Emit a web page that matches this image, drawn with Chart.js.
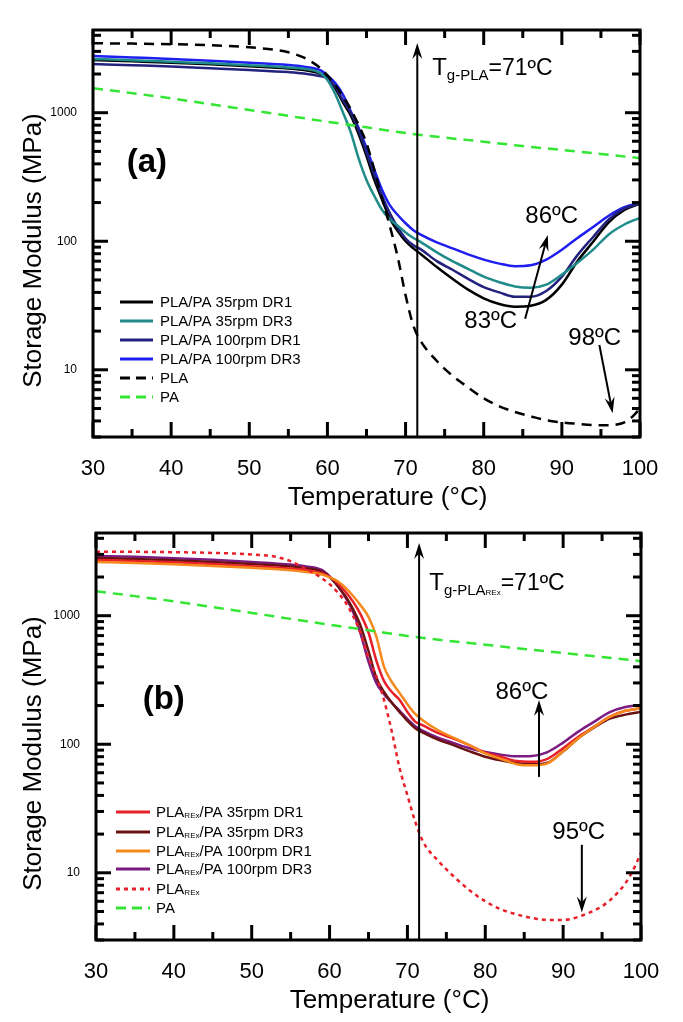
<!DOCTYPE html>
<html><head><meta charset="utf-8">
<script src="https://cdn.jsdelivr.net/npm/chart.js@4.4.0/dist/chart.umd.min.js"></script>
<style>html,body{margin:0;padding:0;background:#fff;overflow:hidden}.w{position:absolute;left:0;width:683px;height:511px}</style>
</head><body>
<div class="w" style="top:0"><canvas id="ca"></canvas></div>
<div class="w" style="top:511px"><canvas id="cb"></canvas></div>
<script>
// ---------- data ----------
const tempsBlend = [30,35,40,45,50,55,57,59,60,61,62,63,64,65,66,67,68,69,70,71,72,74,76,78,80,82,84,86,88,90,92,94,96,98,100];
// panel (a)
const plaPa35DR1  = [2570,2510,2450,2380,2300,2210,2150,2020,1880,1550,1200,950,680,460,300,210,150,120,100,88,79,63,51,42,36,32.5,31,31.5,35,46,70,99,140,175,196];
const plaPa35DR3  = [2620,2560,2490,2420,2340,2250,2200,2050,1800,1400,1000,700,440,300,225,175,148,132,117,106,98,82,70,61,53,48,44.5,43.5,46,55,68,86,113,135,152];
const plaPa100DR1 = [2390,2340,2290,2220,2150,2070,2020,1930,1850,1600,1250,1000,730,490,330,225,165,128,105,93,86,70,60,51,44,40,37,37,41,53,78,108,148,180,196];
const plaPa100DR3 = [2760,2690,2620,2540,2450,2350,2280,2150,1950,1700,1380,1020,760,530,360,250,190,160,138,122,112,98,88,79,72,67,64,65,72,86,106,129,158,184,199];
const tempsPLA = [30,35,40,45,50,53,55,57,58,59,60,61,62,63,64,65,66,67,68,69,70,71,72,74,76,78,80,82,84,86,88,90,92,94,96,97,98,99,100];
const pla      = [3470,3450,3410,3350,3230,3100,2950,2680,2480,2250,1950,1640,1340,1060,800,580,360,215,130,75,38,22,16.5,11.7,9,7.3,6.0,5.2,4.7,4.35,4.05,3.9,3.8,3.72,3.7,3.75,3.9,4.3,5.0];
const tempsPA  = [30,35,40,45,50,55,60,65,70,75,80,85,90,95,100];
const pa       = [1549,1420,1294,1165,1050,945,851,770,695,640,595,550,513,477,443];
// panel (b)
const plaRexPa35DR1  = [2715,2660,2600,2520,2430,2330,2260,2140,2000,1800,1550,1290,1020,740,450,310,255,221,178,150,140,122,110,98,86,80,74,73,77,93,115,137,164,182,191];
const plaRexPa35DR3  = [2810,2760,2700,2620,2530,2420,2340,2200,2000,1720,1430,1130,830,530,330,255,210,178,152,133,123,108,98,88,80,75,71.5,70,72,88,112,135,158,170,178];
const plaRexPa100DR1 = [2620,2570,2510,2440,2360,2260,2190,2090,1990,1860,1660,1430,1200,980,690,400,305,250,205,172,153,128,112,98,85,77,70,68.5,71,88,112,136,163,182,191];
const plaRexPa100DR3 = [2920,2870,2800,2720,2620,2500,2420,2270,2020,1720,1400,1080,720,440,300,245,210,182,157,138,127,112,102,93,87,83,80.5,81,87,103,126,150,178,195,202];
const tempsPLARex = [30,35,40,45,50,53,55,57,58,59,60,61,62,63,64,65,66,67,68,69,70,71,72,74,76,78,80,82,84,86,88,90,92,93,94,95,96,97,98,99,100];
const plaRex      = [3150,3140,3120,3080,3000,2880,2650,2300,2140,1960,1760,1530,1280,1000,730,470,340,220,125,65,40,25,17.5,12.3,9.3,7.3,6.0,5.2,4.75,4.45,4.3,4.3,4.55,4.8,5.1,5.5,6.1,7.0,8.3,10.5,14.3];
// labels
const namesA = ['PLA/PA 35rpm DR1','PLA/PA 35rpm DR3','PLA/PA 100rpm DR1','PLA/PA 100rpm DR3','PLA','PA'];
const namesB = ['35rpm DR1','35rpm DR3','100rpm DR1','100rpm DR3'];
const xTickLabels = [30,40,50,60,70,80,90,100];
const yTickLabels = [10,100,1000];

// ---------- helpers ----------
const FONT = '"Liberation Sans", Arial, sans-serif';
Chart.defaults.font.family = FONT;
const pts = (xs, ys) => xs.map((x,i)=>({x, y: ys[i]}));
const X = (c,v)=>c.scales.x.getPixelForValue(v);
const Y = (c,v)=>c.scales.y.getPixelForValue(v);
function seg(ctx,x1,y1,x2,y2){ctx.beginPath();ctx.moveTo(x1,y1);ctx.lineTo(x2,y2);ctx.stroke();}
function arrow(ctx,x1,y1,x2,y2,hl,hw){
  const ang=Math.atan2(y2-y1,x2-x1);
  seg(ctx,x1,y1,x2-Math.cos(ang)*hl*0.6,y2-Math.sin(ang)*hl*0.6);
  ctx.save();ctx.translate(x2,y2);ctx.rotate(ang);
  ctx.beginPath();ctx.moveTo(0,0);ctx.lineTo(-hl,-hw);ctx.lineTo(-hl*0.65,0);ctx.lineTo(-hl,hw);ctx.closePath();ctx.fill();
  ctx.restore();
}
function rich(ctx, parts, x, y){
  ctx.textAlign='left'; ctx.textBaseline='alphabetic';
  for(const [t,s,dy,w] of parts){ctx.font=(w||'')+' '+s+'px '+FONT;ctx.fillText(t,x,y+dy);x+=ctx.measureText(t).width;}
}
function centerText(ctx,t,x,y,size,weight){
  ctx.font=(weight||'')+' '+size+'px '+FONT;ctx.textAlign='center';ctx.textBaseline='middle';ctx.fillText(t,x,y);
}
function frameAndTicks(c){
  const ctx=c.ctx,a=c.chartArea;
  ctx.save();ctx.strokeStyle='#000';ctx.lineWidth=3;ctx.setLineDash([]);
  for(let t=30;t<=100;t+=5){const x=X(c,t),L=t%10===0?15:8;seg(ctx,x,a.bottom,x,a.bottom-L);seg(ctx,x,a.top,x,a.top+L);}
  for(let d=1;d<=1000;d*=10)for(let m=1;m<=9;m++){const v=d*m;if(v<3||v>4400)continue;const y=Y(c,v),L=m===1?15:8;seg(ctx,a.left,y,a.left+L,y);seg(ctx,a.right,y,a.right-L,y);}
  ctx.strokeRect(a.left,a.top,a.right-a.left,a.bottom-a.top);
  ctx.restore();
}
function titles(c){
  const ctx=c.ctx,a=c.chartArea;
  ctx.save();ctx.fillStyle='#000';
  centerText(ctx,'Temperature (°C)',(a.left+a.right)/2+21,a.bottom+61,26);
  ctx.translate(34,(a.top+a.bottom)/2+17);ctx.rotate(-Math.PI/2);
  centerText(ctx,'Storage Modulus (MPa)',0,0,26);
  ctx.restore();
}
function legend(ctx, items, x0, x1, tx, rows){
  items.forEach((it,i)=>{
    const y=rows[i];
    ctx.save();ctx.strokeStyle=it.color;ctx.lineWidth=3;ctx.setLineDash(it.dash||[]);seg(ctx,x0,y,x1,y);ctx.restore();
    ctx.fillStyle='#000';rich(ctx,it.parts,tx,y+5);
  });
}
const line=(label,xs,ys,color,dash)=>({label,data:pts(xs,ys),borderColor:color,backgroundColor:color,borderWidth:2.5,borderDash:dash||[],pointRadius:0,cubicInterpolationMode:'monotone',fill:false});
const COL = {black:'#000000',teal:'#1f8c8a',navy:'#22227e',blue:'#1e1ef0',green:'#33e633',red:'#e8202a',dred:'#6a1212',orange:'#f5891c',purple:'#7b1a82'};
const DASH=[10,7], DOT=[4,4];

function makeOptions(W,H,pad){
  return {
    responsive:true,maintainAspectRatio:false,animation:false,
    layout:{padding:pad},
    plugins:{legend:{display:false},tooltip:{enabled:false}},
    scales:{
      x:{type:'linear',min:30,max:100,grid:{display:false},border:{display:false},
         afterBuildTicks:s=>{s.ticks=xTickLabels.map(v=>({value:v}));},
         ticks:{font:{size:22},color:'#000',padding:11,maxRotation:0,autoSkip:false},
         afterFit:s=>{s.height=H;}},
      y:{type:'logarithmic',min:3,max:4400,grid:{display:false},border:{display:false},
         ticks:{font:{size:12},color:'#000',padding:8,autoSkip:false,
           callback:v=>{const f=yTickLabels.find(t=>Math.abs(v-t)/t<1e-6);return f?String(f):'';}},
         afterFit:s=>{s.width=W;}}
    }
  };
}

// ---------- chart (a) ----------
const decorA={id:'decorA',afterDraw(c){
  const ctx=c.ctx,a=c.chartArea;
  frameAndTicks(c);titles(c);
  ctx.save();ctx.fillStyle='#000';ctx.strokeStyle='#000';ctx.lineWidth=2;
  arrow(ctx,X(c,71.5),a.bottom,X(c,71.5),Y(c,3480),16,5);
  rich(ctx,[['T',24,0],['g-PLA',15,5],['=71ºC',23,0]],X(c,73.4),Y(c,1966));
  arrow(ctx,X(c,85.3),Y(c,25),X(c,88.2),Y(c,112),16,5);
  centerText(ctx,'86ºC',X(c,88.7),Y(c,157),24);
  centerText(ctx,'83ºC',X(c,80.9),Y(c,23.6),24);
  centerText(ctx,'98ºC',X(c,94.2),Y(c,17.7),24);
  arrow(ctx,X(c,94.8),Y(c,15.6),X(c,96.5),Y(c,4.6),16,5);
  centerText(ctx,'(a)',X(c,36.9),Y(c,406),33,'bold');
  const f=15;
  legend(ctx,[
    {color:COL.black,parts:[[namesA[0],f,0]]},
    {color:COL.teal,parts:[[namesA[1],f,0]]},
    {color:COL.navy,parts:[[namesA[2],f,0]]},
    {color:COL.blue,parts:[[namesA[3],f,0]]},
    {color:COL.black,dash:[10,6],parts:[[namesA[4],f,0]]},
    {color:COL.green,dash:[10,6],parts:[[namesA[5],f,0]]}
  ],120,153,160,[302,321,340,359,378,397]);
  ctx.restore();
}};
new Chart(document.getElementById('ca'),{
  type:'line',
  data:{datasets:[
    line(namesA[5],tempsPA,pa,COL.green,DASH),
    line(namesA[4],tempsPLA,pla,COL.black,DASH),
    line(namesA[1],tempsBlend,plaPa35DR3,COL.teal),
    line(namesA[2],tempsBlend,plaPa100DR1,COL.navy),
    line(namesA[0],tempsBlend,plaPa35DR1,COL.black),
    line(namesA[3],tempsBlend,plaPa100DR3,COL.blue)
  ]},
  options:makeOptions(93,74,{left:0,right:43,top:30,bottom:0}),
  plugins:[decorA]
});

// ---------- chart (b) ----------
const decorB={id:'decorB',afterDraw(c){
  const ctx=c.ctx,a=c.chartArea;
  frameAndTicks(c);titles(c);
  ctx.save();ctx.fillStyle='#000';ctx.strokeStyle='#000';ctx.lineWidth=2;
  arrow(ctx,X(c,71.5),a.bottom,X(c,71.5),Y(c,3680),16,5);
  rich(ctx,[['T',24,0],['g-PLA',15,5],['REx',8,5],['=71ºC',23,0]],X(c,72.8),Y(c,1585));
  arrow(ctx,X(c,86.9),Y(c,55.7),X(c,86.9),Y(c,221),16,5);
  centerText(ctx,'86ºC',X(c,84.7),Y(c,255),24);
  centerText(ctx,'95ºC',X(c,92.0),Y(c,20.8),24);
  arrow(ctx,X(c,92.4),Y(c,16.5),X(c,92.4),Y(c,4.9),16,5);
  centerText(ctx,'(b)',X(c,38.7),Y(c,221),33,'bold');
  const f=15,s=8;
  const bl=n=>[['PLA',f,0],['REx',s,1],['/PA '+n,f,0]];
  legend(ctx,[
    {color:COL.red,parts:bl(namesB[0])},
    {color:COL.dred,parts:bl(namesB[1])},
    {color:COL.orange,parts:bl(namesB[2])},
    {color:COL.purple,parts:bl(namesB[3])},
    {color:COL.red,dash:[4,4],parts:[['PLA',f,0],['REx',s,1]]},
    {color:COL.green,dash:[10,6],parts:[['PA',f,0]]}
  ],116,150,156,[301,321,340,358,378,397]);
  ctx.restore();
}};
new Chart(document.getElementById('cb'),{
  type:'line',
  data:{datasets:[
    line('PA',tempsPA,pa,COL.green,DASH),
    line('PLA REx',tempsPLARex,plaRex,COL.red,DOT),
    line('PLA REx/PA 100rpm DR1',tempsBlend,plaRexPa100DR1,COL.orange),
    line('PLA REx/PA 35rpm DR1',tempsBlend,plaRexPa35DR1,COL.red),
    line('PLA REx/PA 35rpm DR3',tempsBlend,plaRexPa35DR3,COL.dred),
    line('PLA REx/PA 100rpm DR3',tempsBlend,plaRexPa100DR3,COL.purple)
  ]},
  options:makeOptions(96,82,{left:0,right:42,top:22,bottom:0}),
  plugins:[decorB]
});
</script>
</body></html>
